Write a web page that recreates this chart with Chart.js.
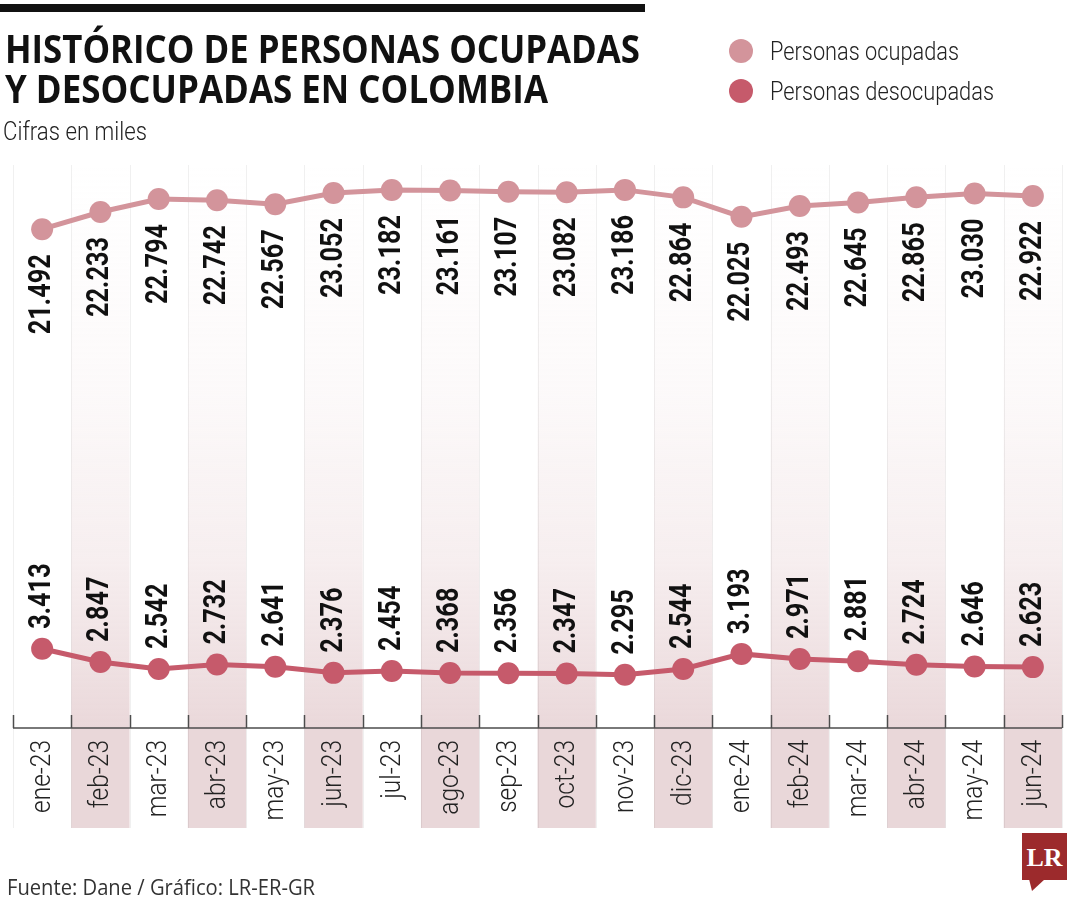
<!DOCTYPE html>
<html>
<head>
<meta charset="utf-8">
<script src="https://cdn.jsdelivr.net/npm/chart.js@4.4.1/dist/chart.umd.min.js"></script>
<style>
  html, body { margin:0; padding:0; background:#fff; }
  #wrap { position:relative; width:1080px; height:900px; overflow:hidden; background:#fff; }
  canvas#c { position:absolute; left:0; top:0; }
  .t { position:absolute; white-space:nowrap; transform-origin:0 0; color:#111; }
  .title { font-family:"Open Sans", sans-serif; font-weight:700; font-size:39px; line-height:39px; }
  .light { font-family:Roboto, sans-serif; font-weight:300; font-size:26px; line-height:26px; color:#222; }
  .foot { font-family:"Open Sans", sans-serif; font-weight:400; font-size:21px; line-height:21px; color:#333; }
  .dot { position:absolute; width:24px; height:24px; border-radius:50%; }
</style>
</head>
<body>
<div id="wrap">
  <canvas id="c" width="1080" height="900"></canvas>
  <div style="position:absolute;left:0;top:4px;width:645px;height:8px;background:#111;"></div>
  <div class="t title" id="t1" data-w="635" style="left:5px;top:28px;">HISTÓRICO DE PERSONAS OCUPADAS</div>
  <div class="t title" id="t2" data-w="543" style="left:5px;top:68px;">Y DESOCUPADAS EN COLOMBIA</div>
  <div class="t light" id="t3" data-w="144" style="left:3px;top:118px;">Cifras en miles</div>
  <div class="dot" style="left:729px;top:39px;background:#d3949b;"></div>
  <div class="dot" style="left:729px;top:79px;background:#c65a6b;"></div>
  <div class="t light" id="l1" data-w="189" style="left:770px;top:38px;">Personas ocupadas</div>
  <div class="t light" id="l2" data-w="224" style="left:770px;top:78px;">Personas desocupadas</div>
  <div class="t foot" id="f1" data-w="308" style="left:7px;top:877px;">Fuente: Dane / Gráfico: LR-ER-GR</div>
  <svg style="position:absolute;left:1020px;top:830px;" width="50" height="64">
    <rect x="2" y="3" width="45" height="47" fill="#9c2a2c"/>
    <polygon points="9,49 25,49 12,61" fill="#9c2a2c"/>
    <text x="24.5" y="36" text-anchor="middle" font-family="'Liberation Serif','DejaVu Serif',serif" font-weight="700" font-size="26" fill="#fff">LR</text>
  </svg>
</div>
<script>
const categories = ["ene-23","feb-23","mar-23","abr-23","may-23","jun-23","jul-23","ago-23","sep-23","oct-23","nov-23","dic-23","ene-24","feb-24","mar-24","abr-24","may-24","jun-24"];
const ocupadas = [21492,22233,22794,22742,22567,23052,23182,23161,23107,23082,23186,22864,22025,22493,22645,22865,23030,22922];
const desocupadas = [3413,2847,2542,2732,2641,2376,2454,2368,2356,2347,2295,2544,3193,2971,2881,2724,2646,2623];
const seriesNames = ["Personas ocupadas","Personas desocupadas"];

function fmt(v){ const k=Math.floor(v/1000), r=v%1000; return k>0 ? k+'.'+String(r).padStart(3,'0') : String(r); }

// fit HTML texts to measured widths
document.querySelectorAll('.t[data-w]').forEach(el=>{
  const w = el.getBoundingClientRect().width;
  const target = +el.dataset.w;
  el.style.transform = 'scaleX(' + (target / w) + ')';
});

const BAND_TOP = 165, BAND_BOTTOM = 828;

const decor = {
  id:'decor',
  beforeDatasetsDraw(chart){
    const ctx = chart.ctx, xs = chart.scales.x, area = chart.chartArea;
    const step = xs.getPixelForValue(1) - xs.getPixelForValue(0);
    const half = step/2;
    ctx.save();
    // bands
    const g = ctx.createLinearGradient(0, BAND_TOP, 0, area.bottom);
    g.addColorStop(0, 'rgba(236,218,220,0)');
    g.addColorStop(0.4, 'rgba(236,218,220,0.15)');
    g.addColorStop(0.7, 'rgba(236,218,220,0.45)');
    g.addColorStop(1, 'rgba(234,216,218,1)');
    categories.forEach((c,i)=>{
      if (i % 2 === 1) {
        const x = xs.getPixelForValue(i);
        ctx.fillStyle = g;
        ctx.fillRect(x-half, BAND_TOP, step, area.bottom-BAND_TOP);
        ctx.fillStyle = 'rgb(233,215,217)';
        ctx.fillRect(x-half, area.bottom, step, BAND_BOTTOM-area.bottom);
      }
    });
    // light separators
    ctx.strokeStyle = 'rgba(0,0,0,0.06)';
    ctx.lineWidth = 1;
    for (let i=0;i<=categories.length;i++){
      const x = Math.round(xs.getPixelForValue(0) - half + i*step) + 0.5;
      ctx.beginPath(); ctx.moveTo(x, BAND_TOP); ctx.lineTo(x, BAND_BOTTOM); ctx.stroke();
    }
    // axis line and ticks
    ctx.strokeStyle = '#4d4d4d';
    ctx.lineWidth = 1.5;
    ctx.beginPath(); ctx.moveTo(area.left, area.bottom); ctx.lineTo(area.right, area.bottom); ctx.stroke();
    for (let i=0;i<=categories.length;i++){
      const x = Math.round(xs.getPixelForValue(0) - half + i*step) + 0.5;
      ctx.beginPath(); ctx.moveTo(x, area.bottom-13); ctx.lineTo(x, area.bottom); ctx.stroke();
    }
    // x labels
    ctx.font = '300 27px Roboto, sans-serif';
    const fx = 73 / ctx.measureText('ene-23').width;
    ctx.fillStyle = '#222';
    ctx.textAlign = 'right';
    ctx.textBaseline = 'middle';
    categories.forEach((c,i)=>{
      const x = xs.getPixelForValue(i);
      ctx.save();
      ctx.translate(x+1, area.bottom + 12);
      ctx.rotate(-Math.PI/2);
      ctx.scale(fx, 1);
      ctx.fillText(c, 0, 0);
      ctx.restore();
    });
    ctx.restore();
  },
  afterDatasetsDraw(chart){
    const ctx = chart.ctx;
    ctx.save();
    ctx.font = '700 32px Roboto, sans-serif';
    const fb = 80 / ctx.measureText('21.492').width;
    ctx.fillStyle = '#111';
    ctx.textAlign = 'left';
    ctx.textBaseline = 'middle';
    const offsets = [105, -20];
    chart.data.datasets.forEach((ds, di)=>{
      const meta = chart.getDatasetMeta(di);
      meta.data.forEach((pt, i)=>{
        ctx.save();
        ctx.translate(pt.x, pt.y + offsets[di]);
        ctx.rotate(-Math.PI/2);
        ctx.scale(fb, 1);
        ctx.fillText(fmt(ds.data[i]), 0, 0);
        ctx.restore();
      });
    });
    ctx.restore();
  }
};

new Chart(document.getElementById('c'), {
  type:'line',
  data:{
    labels: categories,
    datasets:[
      { label: seriesNames[0], data: ocupadas, borderColor:'#d3949b', backgroundColor:'#d3949b',
        pointBackgroundColor:'#d3949b', pointBorderWidth:0, borderWidth:5, pointRadius:11, pointHoverRadius:11, tension:0 },
      { label: seriesNames[1], data: desocupadas, borderColor:'#c65a6b', backgroundColor:'#c65a6b',
        pointBackgroundColor:'#c65a6b', pointBorderWidth:0, borderWidth:5, pointRadius:11, pointHoverRadius:11, tension:0 }
    ]
  },
  options:{
    responsive:false,
    animation:false,
    layout:{ padding:{ left:13, right:18, top:171, bottom:172 } },
    plugins:{ legend:{display:false}, tooltip:{enabled:false} },
    scales:{
      x:{ display:false, offset:true },
      y:{ display:false, min:0, max:24000 }
    }
  },
  plugins:[decor]
});
</script>
</body>
</html>
